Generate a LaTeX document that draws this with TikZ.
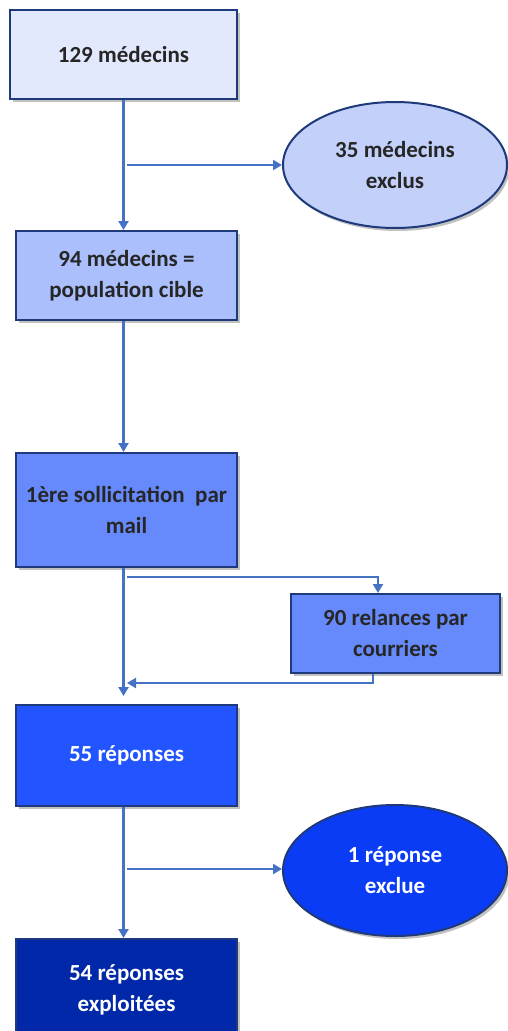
\documentclass[tikz,border=0pt]{standalone}
\usepackage{fontspec}
\setmainfont{Carlito}
\usetikzlibrary{arrows.meta,shapes.geometric,shadows}
\definecolor{bA}{HTML}{E3E9FC}
\definecolor{bB}{HTML}{AABFFB}
\definecolor{bC}{HTML}{6689FB}
\definecolor{bD}{HTML}{2255FF}
\definecolor{bE}{HTML}{0028A8}
\definecolor{eA}{HTML}{C2D0FA}
\definecolor{eB}{HTML}{0A3CF5}
\definecolor{edge}{HTML}{1F3A7A}
\definecolor{arrc}{HTML}{4472C4}
\definecolor{txt}{HTML}{262626}
\tikzset{
  base/.style={draw=edge, line width=2pt, align=center, inner sep=2pt,
     font=\fontsize{23}{31}\selectfont\bfseries,
     drop shadow={shadow xshift=2.5pt, shadow yshift=-3pt, opacity=0.35, fill=black!70}},
  boxn/.style={base, rectangle, minimum width=#1},
  ovaln/.style={base, ellipse, minimum width=224pt},
  arr/.style={draw=arrc, line width=2.9pt, -{Triangle[length=9pt,width=10pt]}}
}
\begin{document}
\begin{tikzpicture}[x=1pt,y=-1pt]
\useasboundingbox (0,0) rectangle (508,1031);
\clip (0,0) rectangle (508,1031);
\node[boxn=227pt, minimum height=89pt, fill=bA, text=txt] (b1) at (123.5,54.5) {129 médecins};
\node[ovaln, minimum height=126pt, fill=eA, text=txt] (e1) at (395,165) {35 médecins\\exclus};
\node[boxn=221pt, minimum height=89pt, fill=bB, text=txt] (b2) at (126.5,275.5) {94 médecins =\\population cible};
\node[boxn=221pt, minimum height=114pt, fill=bC, text=txt] (b3) at (126.5,510) {1ère sollicitation\ \ par\\mail};
\node[boxn=209pt, minimum height=79pt, fill=bC, text=txt] (rel) at (395.5,633.5) {90 relances par\\courriers};
\node[boxn=221pt, minimum height=101pt, fill=bD, text=white] (b4) at (126.5,755.5) {55 réponses};
\node[ovaln, minimum height=131pt, fill=eB, text=white] (e2) at (395,870.5) {1 réponse\\exclue};
\node[boxn=221pt, minimum height=102pt, fill=bE, text=white] (b5) at (126.5,990) {54 réponses\\exploitées};
% spine
\draw[arr] (b1.south) -- (b1.south |- b2.north);
\draw[arr] (b2.south -| b1.south) -- (b3.north -| b1.south);
\draw[arr] (b3.south -| b1.south) -- ([yshift=8pt]b4.north -| b1.south);
\draw[arr] (b4.south -| b1.south) -- (b5.north -| b1.south);
% branches
\coordinate (j1) at (127,165);
\draw[arr] (j1) -- (j1 -| e1.west);
\coordinate (j2) at (127,577);
\draw[arr] (j2) -| ([xshift=-17.5pt]rel.north);
\coordinate (j3) at (127,683);
\draw[arr] ([xshift=-22.5pt]rel.south) |- (j3);
\coordinate (j4) at (127,869);
\draw[arr] (j4) -- (j4 -| e2.west);
\end{tikzpicture}
\end{document}
